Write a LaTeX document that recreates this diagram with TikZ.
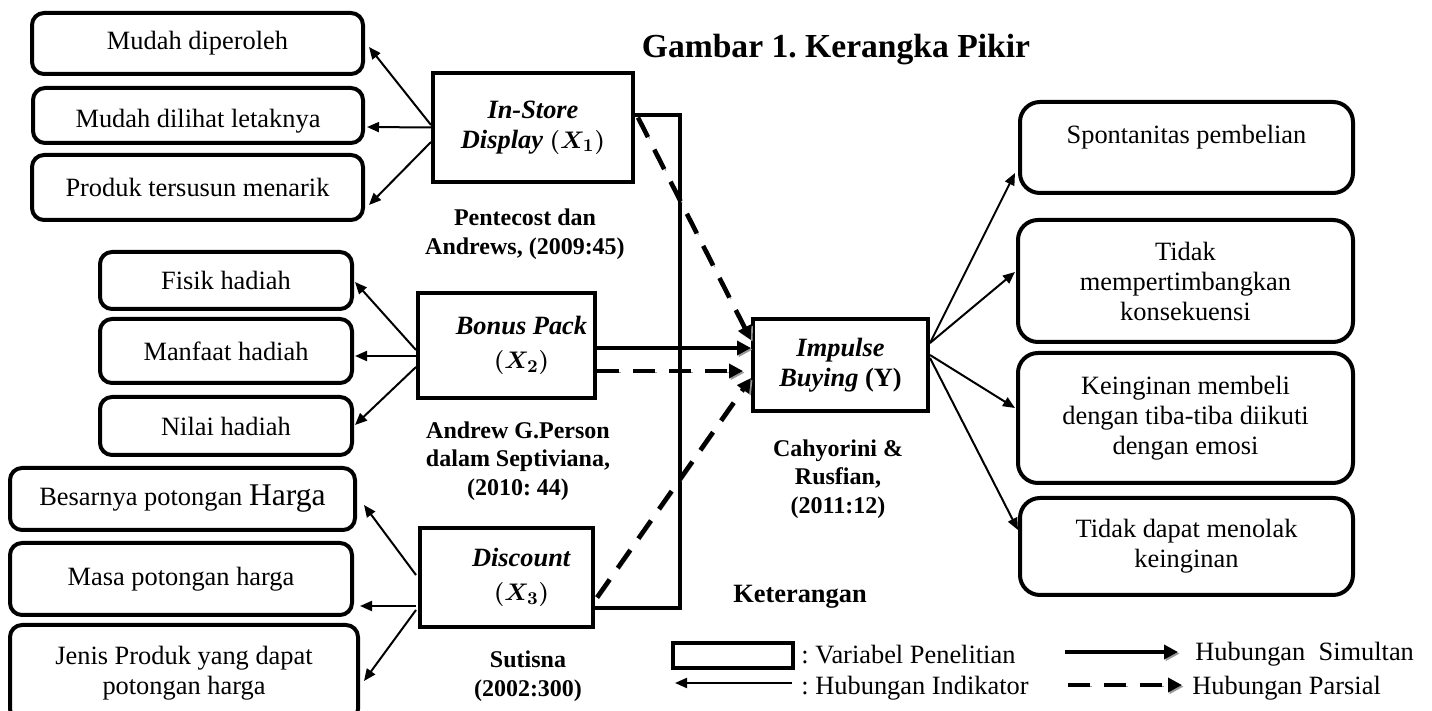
\documentclass[tikz,border=0pt]{standalone}
\usepackage{fontspec}
\setmainfont{Liberation Serif}
\usepackage{amsmath}
\usetikzlibrary{arrows.meta,calc}
\frenchspacing
\newcommand\bxf{\fontsize{13.2}{15}\selectfont}
\newcommand\rff{\fontsize{12}{14.3}\selectfont\bfseries}
\newcommand\titlefnt{\fontsize{16.8}{20}\selectfont\bfseries}
\tikzset{
 box/.style n args={4}{at={({(#1+#3)/2},{(#2+#4)/2})}, minimum width={(#3-#1)*0.5pt}, minimum height={(#4-#2)*0.5pt}},
 ibox/.style={draw, line width=2pt, rounded corners=6pt, inner sep=0pt, align=center, font=\bxf},
 rbox/.style={ibox, rounded corners=10pt},
 vbox/.style={draw, line width=2pt, inner sep=0pt, align=center, font=\bxf},
 refnote/.style={align=center, font=\rff, inner sep=0pt},
 plain/.style={font=\bxf, inner sep=0pt, anchor=west},
 ind/.style={line width=1pt, -{Triangle[length=6pt,width=5pt]}},
 simul/.style={line width=2.3pt, -{Triangle[length=7pt,width=7pt]},
   preaction={draw=black!40, transform canvas={xshift=0.8pt,yshift=-0.8pt}}},
 pars/.style={line width=2.3pt, dash pattern=on 11pt off 7pt, -{Triangle[length=7pt,width=7pt]},
   preaction={draw=black!40, dash pattern=on 11pt off 7pt, transform canvas={xshift=0.8pt,yshift=-0.8pt}}},
 brk/.style={line width=2pt, line join=miter,
   preaction={draw=black!40, transform canvas={xshift=0.8pt,yshift=-0.8pt}}},
}
\begin{document}
\begin{tikzpicture}[x=0.5pt,y=-0.5pt]
\path[use as bounding box] (0,0) rectangle (1432,711);
\clip (0,0) rectangle (1432,711);
\fill[white] (0,0) rectangle (1432,711);

% title
\node[font=\titlefnt, inner sep=0pt] (title) at (836,50) {Gambar 1. Kerangka Pikir};

% variable boxes
\node[vbox, box={433}{73}{633}{182}] (X1) {\textbf{\textit{In-Store}}\\\textbf{\textit{Display}} $\boldsymbol{(X_1)}$};
\node[vbox, box={418}{293}{595}{398}, label={[font=\bxf, align=center, xshift=7.5pt]center:{\textbf{\textit{Bonus Pack}}\\[2pt]$\boldsymbol{(X_2)}$}}] (X2) {};
\node[vbox, box={420}{528}{593}{627}, label={[font=\bxf, align=center, xshift=7.5pt]center:{\textbf{\textit{Discount}}\\[2pt]$\boldsymbol{(X_3)}$}}] (X3) {};
\node[vbox, box={753}{319}{928}{411}] (Y) {\textbf{\textit{Impulse}}\\\textbf{\textit{Buying} (Y)}};

% indicator boxes X1
\node[ibox, box={32}{13}{363}{74}] (m1) {Mudah diperoleh};
\node[ibox, box={33}{88}{363}{143}, label={[font=\bxf, yshift=-3pt]center:Mudah dilihat letaknya}] (m2) {};
\node[ibox, box={32}{155}{363}{220}] (m3) {Produk tersusun menarik};
% indicator boxes X2
\node[ibox, box={100}{252}{352}{309}] (f1) {Fisik hadiah};
\node[ibox, box={100}{319}{352}{383}] (f2) {Manfaat hadiah};
\node[ibox, box={100}{397}{352}{455}] (f3) {Nilai hadiah};
% indicator boxes X3
\node[ibox, box={10}{468}{355}{530}] (d1) {Besarnya potongan {\fontsize{15.8}{15}\selectfont Harga}};
\node[ibox, box={10}{543}{352}{615}] (d2) {Masa potongan harga};
\node[ibox, box={10}{625}{358}{721}] (d3) {Jenis Produk yang dapat\\potongan harga};
% indicator boxes Y
\node[rbox, box={1020}{102}{1353}{193}, label={[font=\bxf, yshift=5pt]center:Spontanitas pembelian}] (s1) {};
\node[rbox, box={1018}{220}{1353}{342}] (s2) {Tidak\\mempertimbangkan\\konsekuensi};
\node[rbox, box={1018}{353}{1353}{483}] (s3) {Keinginan membeli\\dengan tiba-tiba diikuti\\dengan emosi};
\node[rbox, box={1020}{498}{1353}{595}] (s4) {Tidak dapat menolak\\keinginan};

% references
\node[refnote] (r1) at (525,234) {Pentecost dan\\Andrews, (2009:45)};
\node[refnote] (r2) at (518,461) {Andrew G.Person\\dalam Septiviana,\\(2010: 44)};
\node[refnote] (r3) at (528,676) {Sutisna\\(2002:300)};
\node[refnote] (r4) at (838,479) {Cahyorini \&\\Rusfian,\\(2011:12)};

% indicator arrows
\draw[ind] ($(X1.west)+(0,-2.5)$) -- ($(m1.east)+(4,3.5)$);
\draw[ind] ($(X1.west)+(0,0)$) -- ($(m2.east)+(2,11.5)$);
\draw[ind] ($(X1.west)+(0,14.5)$) -- ($(m3.east)+(4,17.5)$);
\draw[ind] ($(X2.west)+(0,4.5)$) -- ($(f1.east)+(1,1.5)$);
\draw[ind] ($(X2.west)+(0,10.5)$) -- ($(f2.east)+(1,5)$);
\draw[ind] ($(X2.west)+(0,21.5)$) -- ($(f3.east)+(1,-1)$);
\draw[ind] ($(X3.west)+(-2,-2.5)$) -- ($(d1.east)+(7,6)$);
\draw[ind] ($(X3.west)+(-2,28.5)$) -- ($(d2.east)+(6,27)$);
\draw[ind] ($(X3.west)+(-2,32.5)$) -- ($(d3.east)+(4,8)$);
\draw[ind] ($(Y.east)+(0,-22)$) -- ($(s1.west)+(-3,25.5)$);
\draw[ind] ($(Y.east)+(0,-22)$) -- ($(s2.west)+(-1,-9)$);
\draw[ind] ($(Y.east)+(0,-10)$) -- ($(s3.west)+(-1,-10)$);
\draw[ind] ($(Y.east)+(0,-7)$) -- ($(s4.west)+(0,-16.5)$);

% simultaneous bracket and arrows
\coordinate (bk1) at (680,115);
\coordinate (bk2) at (680,608);
\draw[brk] (X1.east |- bk1) -- (bk1) -- (bk2) -- (X3.east |- bk2);
\draw[simul] ($(X2.east)+(0,2.5)$) -- ($(Y.west)+(0,-17)$);
\draw[pars] ($(X2.east)+(0,25.5)$) -- ($(Y.west)+(-8,6)$);
\draw[pars] ($(X1.east)+(3,-10)$) -- ($(Y.west)+(0,-25)$);
\draw[pars] ($(X3.east)+(2,20)$) -- ($(Y.west)+(0,13)$);

% legend
\node[font=\bxf\bfseries, inner sep=0pt] (ket) at (800,597) {Keterangan};
\node[vbox, box={673}{643}{793}{668}] (lg) {};
\node[plain] (lgt1) at (801,655) {: Variabel Penelitian};
\coordinate (la1) at (792,683);
\coordinate (la2) at (675,683);
\draw[ind] (la1) -- (la2);
\node[plain] (lgt2) at (801,688) {: Hubungan Indikator};
\coordinate (lb1) at (1065,652);
\coordinate (lb2) at (1178,652);
\draw[simul] (lb1) -- (lb2);
\node[plain] (lgt3) at (1195,654) {Hubungan\ \ Simultan};
\coordinate (lc1) at (1068,685);
\coordinate (lc2) at (1182,685);
\draw[pars] (lc1) -- (lc2);
\node[plain] (lgt4) at (1192,688) {Hubungan Parsial};
\end{tikzpicture}
\end{document}
